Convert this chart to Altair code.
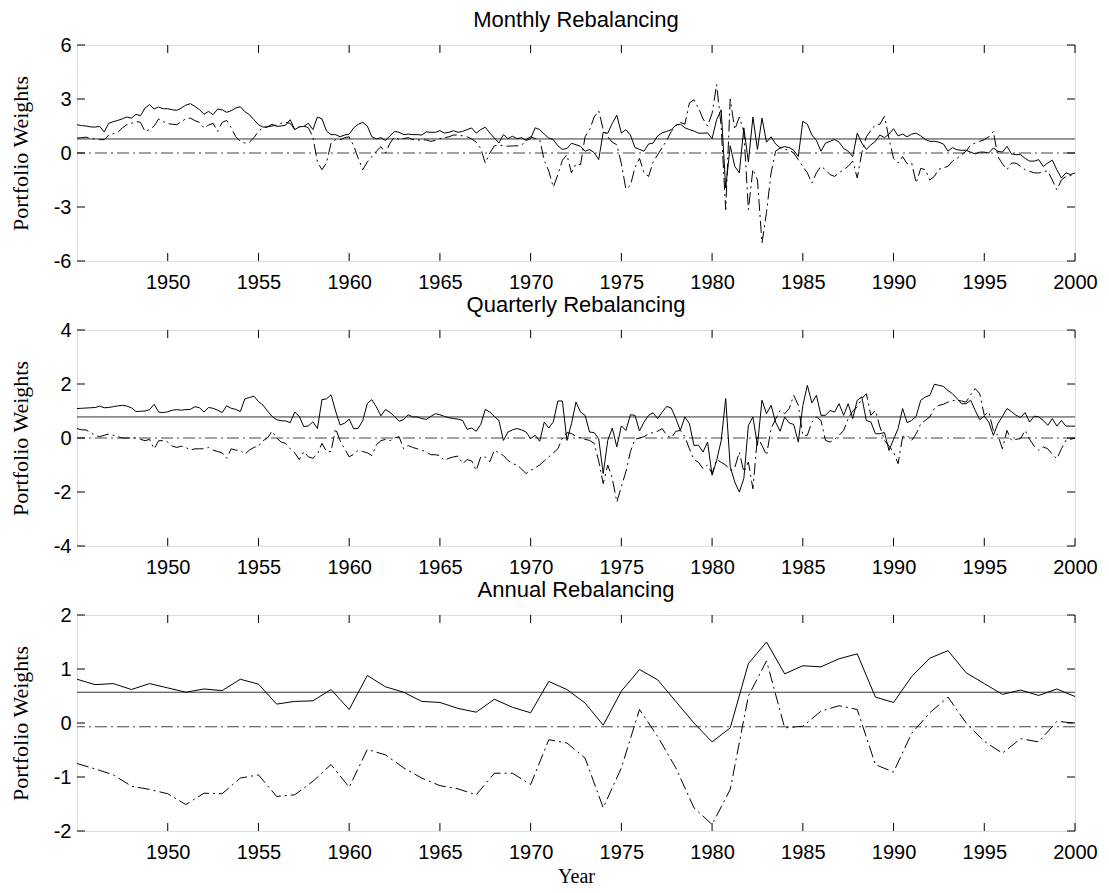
import altair as alt
import pandas as pd

# ---------------- data ----------------
x_ticks = [1950, 1955, 1960, 1965, 1970, 1975, 1980, 1985, 1990, 1995, 2000]

# Monthly panel (read on a quarterly grid 1945.0 ... 2000.0)
m_solid = [
    1.57, 1.52, 1.50, 1.45,  1.44, 1.48, 1.17, 1.65,  1.74, 1.81, 1.90, 2.00,
    1.94, 2.15, 2.07, 2.50,  2.69, 2.45, 2.55, 2.46,  2.46, 2.40, 2.37, 2.50,
    2.66, 2.74, 2.59, 2.41,  2.15, 2.31, 2.13, 2.44,  2.40, 2.26, 2.35, 2.50,
    2.57, 2.30, 2.13, 1.85,  1.57, 1.44, 1.45, 1.60,  1.48, 1.50, 1.55, 1.85,
    1.30, 1.45, 1.48, 1.65,  1.30, 2.00, 1.90, 1.22,  1.02, 1.02, 0.90, 1.00,
    1.05, 1.40, 1.60, 1.70,  1.50, 0.90, 0.78, 0.85,  0.70, 0.95, 1.20, 1.15,
    1.02, 1.05, 1.02, 1.02,  1.00, 1.17, 1.15, 1.15,  1.24, 1.11, 1.15, 1.24,
    1.15, 1.20, 1.30, 1.39,  1.10, 1.30, 1.43, 1.11,  0.83, 0.56, 1.02, 0.80,
    0.93, 0.80, 0.85, 0.70,  0.80, 1.40, 1.30, 1.05,  0.83, 0.74, 0.40, 0.20,
    0.25, 0.54, 0.46, 0.37,  0.10, 0.19, 0.02, -0.37, 1.15, 1.10, 1.65, 2.10,
    1.10, 1.30, 1.00, 0.30,  0.20, 0.10, 0.50, 0.55,  0.95, 1.12, 1.20, 1.30,
    1.55, 1.60, 1.40, 1.30,  1.22, 1.10, 1.10, 1.12,  0.80, 1.85, 2.40, -1.94,
    0.40, -0.74, -1.10, 1.40, -0.50, 2.00, 0.20, 1.94, 0.60, 0.90, 0.50, 0.30,
    0.35, 0.30, 0.15, -0.19, 1.76, 1.60, 1.00, 0.70, 0.10, 0.55, 0.65, 0.75,
    0.60, 0.25, 0.10, -0.20, 1.10, 0.55, 0.20, 0.45, 0.65, 1.00, 0.85, 1.05,
    1.35, 0.95, 1.05, 0.90,  1.05, 1.10, 0.95, 0.75,  0.65, 0.65, 0.60, 0.50,
    0.10, 0.30, 0.18, 0.15,  0.15, 0.05, -0.05, 0.05, 0.05, 0.00, 0.28, 0.10,
    0.05, 0.37, -0.05, -0.09, -0.09, -0.30, -0.45, -0.45, -0.37, -0.75, -0.55, -0.40,
    -0.93, -1.39, -1.10, -1.20, -1.11,
]
m_dash = [
    0.83, 0.85, 0.88, 0.80,  0.78, 0.74, 0.74, 1.00,  1.07, 1.15, 1.40, 1.57,
    1.65, 1.76, 1.70, 1.20,  1.30, 1.50, 1.89, 1.75,  1.63, 1.60, 1.57, 1.75,
    1.90, 1.94, 1.80, 1.70,  1.39, 1.55, 1.65, 1.20,  1.70, 1.81, 1.40, 0.90,
    0.65, 0.55, 0.60, 0.85,  1.20, 1.40, 1.45, 1.50,  1.55, 1.65, 1.70, 1.65,
    1.30, 1.45, 1.50, 1.40,  0.90, -0.50, -0.93, -0.55, 0.55, 0.74, 0.74, 0.85,
    0.90, 0.40, -0.30, -0.93, -0.50, -0.20, 0.10, 0.35, 0.00, 0.55, 0.90, 0.75,
    0.80, 0.85, 0.75, 0.70,  0.75, 0.72, 0.65, 0.70,  0.80, 0.85, 0.90, 1.00,
    1.00, 0.95, 0.90, 0.78,  0.60, 0.25, -0.56, 0.00, 0.40, 0.45, 0.40, 0.38,
    0.39, 0.40, 0.42, 0.75,  0.90, 0.80, 0.74, -0.40, -1.00, -1.90, -1.20, -0.40,
    -0.10, -1.10, -0.60, -0.65, 0.90, 1.30, 2.00, 2.35, 1.30, 0.90, 0.60, 0.45,
    -0.60, -2.00, -1.80, -0.80, -0.30, -1.10, -1.30, -0.50, -0.10, 0.30, 0.70, 1.20,
    1.50, 1.70, 1.60, 2.78,  2.96, 2.50, 1.90, 1.50,  2.20, 3.80, 1.50, -3.15,
    3.00, 1.30, 2.00, 1.20,  -3.15, -0.90, -1.50, -5.00, -3.30, -1.11, 0.10, 0.28,
    0.20, 0.15, 0.00, -0.37, -0.74, -1.10, -1.67, -1.10, -0.74, -0.93, -1.20, -1.30,
    -1.10, -0.93, -0.74, -0.45, -1.39, 0.00, 0.90, 1.25, 1.57, 1.60, 2.04, 0.80,
    -0.30, -0.56, -0.20, -0.60, -0.56, -1.67, -0.85, -0.93, -1.50, -1.30, -0.90, -0.83,
    -0.74, -0.45, -0.30, -0.10, 0.10, 0.45, 0.55, 0.65, 0.74, 0.90, 1.20, -0.20,
    -0.60, -0.93, -0.56, -0.56, -0.74, -0.93, -1.02, -1.10, -1.11, -1.02, -1.00, -1.50,
    -2.04, -1.50, -1.30, -1.25, -1.20,
]

# Quarterly panel
q_solid = [
    1.09, 1.10, 1.11, 1.12,  1.13, 1.18, 1.12, 1.13,  1.16, 1.19, 1.21, 1.18,
    1.12, 0.98, 0.99, 1.00,  1.05, 1.25, 0.96, 0.94,  0.97, 1.03, 1.05, 1.03,
    1.05, 1.06, 1.16, 1.12,  0.96, 1.13, 1.10, 1.03,  0.94, 1.19, 1.10, 1.06,
    0.98, 1.45, 1.50, 1.55,  1.35, 1.22, 1.00, 0.80,  0.68, 0.64, 0.63, 0.57,
    0.96, 0.80, 0.42, 0.45,  0.60, 0.35, 1.42, 1.45,  1.60, 1.00, 0.48, 0.55,
    0.70, 0.34, 0.36, 0.65,  1.28, 1.42, 1.15, 0.82,  1.06, 0.95, 0.80, 0.62,
    0.68, 0.86, 0.78, 0.78,  0.72, 0.69, 0.80, 0.90,  0.86, 0.80, 0.75, 0.72,
    0.70, 0.65, 0.32, 0.37,  0.25, 0.50, 1.06, 0.96,  0.80, 0.65, -0.09, 0.22,
    0.30, 0.35, 0.30, 0.22,  -0.02, 0.10, -0.12, 0.59, 0.37, 0.60, 1.37, 1.37,
    -0.09, 0.53, 1.33, 0.96, 0.84, 0.22, 0.20, -0.02, -1.32, -0.09, 0.37, -0.33,
    0.45, 0.28, 0.86, 0.84,  0.26, 0.59, 0.84, 0.93,  0.72, 0.96, 1.17, 1.11,
    0.72, 0.28, 0.78, 0.53,  -0.27, -0.27, -0.52, -0.15, -1.38, -0.83, -0.10, 1.46,
    -1.07, -1.63, -2.00, -1.50, 0.47, 0.78, -0.27, 1.40, 0.90, 1.21, 0.59, 0.25,
    0.78, 0.56, 0.50, -0.15, 1.20, 1.95, 1.30, 1.58,  0.84, 0.84, 1.02, 0.96,
    1.27, 0.84, 1.27, 0.72,  1.40, 1.52, 0.65, 0.59,  0.16, 0.16, 0.20, -0.46,
    -0.05, 0.35, 1.09, 0.57, 0.65, 0.81, 1.40, 1.52,  1.58, 1.99, 1.95, 1.91,
    1.76, 1.64, 1.46, 1.27,  1.27, 1.40, 1.02, 0.68,  0.81, 0.59, 0.10, 0.53,
    0.80, 1.09, 0.98, 0.84,  0.76, 0.94, 0.59, 0.81,  0.78, 0.65, 0.47, 0.72,
    0.44, 0.65, 0.44, 0.44,  0.44,
]
q_dash = [
    0.35, 0.30, 0.30, 0.20,  0.10, 0.05, 0.10, 0.15,  0.10, 0.05, 0.00, 0.00,
    0.00, 0.00, -0.05, -0.10, -0.05, -0.40, -0.10, -0.10, -0.15, -0.30, -0.35, -0.30,
    -0.35, -0.45, -0.40, -0.40, -0.40, -0.35, -0.45, -0.50, -0.55, -0.75, -0.40, -0.45,
    -0.45, -0.60, -0.45, -0.35, -0.30, -0.10, 0.00, 0.25, 0.00, -0.15, -0.20, -0.40,
    -0.55, -0.80, -0.50, -0.70, -0.75, -0.60, -0.20, -0.50, -0.50, 0.35, -0.10, -0.40,
    -0.70, -0.60, -0.45, -0.50, -0.55, -0.65, -0.25, -0.10, -0.05, -0.10, 0.00, 0.05,
    -0.40, -0.28, -0.35, -0.40, -0.45, -0.52, -0.62, -0.62, -0.65, -0.83, -0.75, -0.70,
    -0.67, -0.95, -0.80, -0.85, -1.20, -0.70, -0.70, -0.88, -0.45, -0.55, -0.65, -0.83,
    -0.95, -1.00, -1.15, -1.32, -1.20, -1.10, -1.00, -0.85, -0.70, -0.55, -0.40, 0.00,
    0.20, 0.17, 0.05, 0.00,  -0.05, -0.09, -0.20, -0.85, -1.69, -1.00, -1.50, -2.37,
    -1.80, -1.25, -0.50, -0.05, 0.00, 0.05, 0.15, 0.20, 0.25, 0.35, 0.10, 0.00,
    0.25, 0.28, 0.05, -0.40, -0.80, -0.90, -1.14, -1.00, -1.32, -0.80, -0.90, -1.00,
    -1.20, -1.10, -0.52, -1.26, -0.89, -1.88, 0.04, -0.27, -0.64, 0.35, 0.70, 1.02,
    0.90, 1.09, 1.58, 1.21,  0.10, 0.10, 0.59, 0.78,  0.65, -0.09, -0.15, -0.05,
    0.10, 0.28, 0.72, 1.00,  1.15, 1.46, 1.64, 0.84,  1.02, 0.41, -0.09, -0.30,
    -0.52, -0.95, 0.04, 0.10, -0.09, 0.16, 0.53, 0.65, 0.78, 1.09, 1.21, 1.25,
    1.33, 1.38, 1.40, 1.37,  1.33, 1.60, 1.83, 1.64,  0.84, 0.96, 0.28, 0.10,
    -0.40, 0.28, -0.09, -0.05, -0.02, 0.28, -0.05, -0.30, -0.46, -0.33, -0.40, -0.60,
    -0.77, -0.40, -0.09, -0.05, 0.00,
]

# Annual panel
a_years = list(range(1945, 2001))
a_solid = [
    0.81, 0.71, 0.73, 0.62, 0.73, 0.65, 0.57, 0.63, 0.60, 0.81,
    0.72, 0.35, 0.40, 0.41, 0.62, 0.25, 0.88, 0.67, 0.57, 0.40,
    0.38, 0.27, 0.20, 0.44, 0.29, 0.19, 0.77, 0.62, 0.37, -0.04,
    0.59, 0.99, 0.80, 0.40, 0.00, -0.35, -0.09, 1.10, 1.50, 0.91,
    1.06, 1.04, 1.19, 1.28, 0.48, 0.38, 0.86, 1.20, 1.34, 0.93,
    0.73, 0.53, 0.61, 0.51, 0.63, 0.49,
]
a_dash = [
    -0.75, -0.85, -0.96, -1.17, -1.23, -1.31, -1.51, -1.30, -1.31, -1.02,
    -0.96, -1.36, -1.33, -1.08, -0.77, -1.19, -0.49, -0.59, -0.83, -1.02,
    -1.16, -1.22, -1.33, -0.93, -0.93, -1.14, -0.31, -0.37, -0.65, -1.57,
    -0.83, 0.25, -0.25, -0.83, -1.57, -1.88, -1.23, 0.50, 1.15, -0.09,
    -0.06, 0.22, 0.32, 0.25, -0.77, -0.91, -0.19, 0.19, 0.48, 0.00,
    -0.34, -0.56, -0.29, -0.35, 0.03, 0.00,
]

# horizontal reference levels (solid, dash-dot) per panel
m_levels = [0.78, 0.0]
q_levels = [0.78, 0.0]
a_levels = [0.57, -0.07]

q_times = [1945 + 0.25 * i for i in range(221)]

# ---------------- chart ----------------
W, H = 998, 216
TICK = 8
DASH = [12, 4, 2, 4]
SANS = "Liberation Sans"
SERIF = "Liberation Serif"
LBL = 20


def panel(title, times, solid, dash, y_dom, y_ticks, levels, x_title=None):
    df = pd.DataFrame({"t": times, "solid": solid, "dash": dash})
    xs = alt.Scale(domain=[1945, 2000], nice=False, zero=False)
    ys = alt.Scale(domain=y_dom, nice=False, zero=False)
    xa = dict(values=x_ticks, labelExpr="'' + datum.value", ticks=False, domain=False, grid=False,
              labelFont=SANS, labelFontSize=LBL, labelColor="black",
              labelPadding=11, labelFlush=False)
    if x_title:
        x_axis = alt.Axis(title=x_title, titleFont=SERIF, titleFontSize=20,
                          titleFontWeight="normal", titleColor="black", titlePadding=4, **xa)
    else:
        x_axis = alt.Axis(title=None, **xa)
    y_axis = alt.Axis(values=y_ticks, labelExpr="'' + datum.value", ticks=False, domain=False,
                      grid=False, labelFont=SANS, labelFontSize=LBL, labelColor="black",
                      labelPadding=6, title="Portfolio Weights",
                      titleFont=SERIF, titleFontSize=22, titleFontWeight="normal",
                      titleColor="black", titlePadding=21)
    base = alt.Chart(df)
    solid_line = base.mark_line(color="black", strokeWidth=1, clip=True).encode(
        x=alt.X("t:Q", scale=xs, axis=x_axis),
        y=alt.Y("solid:Q", scale=ys, axis=y_axis),
    )
    dash_line = base.mark_line(color="black", strokeWidth=1, strokeDash=DASH, clip=True).encode(
        x=alt.X("t:Q", scale=xs), y=alt.Y("dash:Q", scale=ys)
    )
    lv = pd.DataFrame({"v": [levels[0]]})
    lv2 = pd.DataFrame({"v": [levels[1]]})
    h_solid = alt.Chart(lv).mark_rule(color="#333333", strokeWidth=1).encode(y=alt.Y("v:Q", scale=ys))
    h_dash = alt.Chart(lv2).mark_rule(color="#444444", strokeWidth=1, strokeDash=DASH).encode(
        y=alt.Y("v:Q", scale=ys))
    xt = pd.DataFrame({"x": x_ticks})
    yt = pd.DataFrame({"y": y_ticks})
    tb = alt.Chart(xt).mark_rule(color="black").encode(
        x=alt.X("x:Q", scale=xs), y=alt.value(H), y2=alt.value(H - TICK))
    tt = alt.Chart(xt).mark_rule(color="black").encode(
        x=alt.X("x:Q", scale=xs), y=alt.value(0), y2=alt.value(TICK))
    tl = alt.Chart(yt).mark_rule(color="black").encode(
        y=alt.Y("y:Q", scale=ys), x=alt.value(0), x2=alt.value(TICK))
    tr = alt.Chart(yt).mark_rule(color="black").encode(
        y=alt.Y("y:Q", scale=ys), x=alt.value(W), x2=alt.value(W - TICK))
    return alt.layer(h_solid, h_dash, dash_line, solid_line, tb, tt, tl, tr).properties(
        width=W, height=H,
        title=alt.TitleParams(title, font=SANS, fontSize=22, fontWeight="normal",
                              color="black", anchor="middle", offset=3),
    )


p1 = panel("Monthly Rebalancing", q_times, m_solid, m_dash, [-6, 6], [-6, -3, 0, 3, 6], m_levels)
p2 = panel("Quarterly Rebalancing", q_times, q_solid, q_dash, [-4, 4], [-4, -2, 0, 2, 4], q_levels)
p3 = panel("Annual Rebalancing", a_years, a_solid, a_dash, [-2, 2], [-2, -1, 0, 1, 2], a_levels,
           x_title="Year")

chart = alt.vconcat(p1, p2, p3, spacing=0).properties(
    padding={"left": 0, "top": 0, "right": 0, "bottom": 0}
).configure_view(stroke="black", strokeWidth=1).configure(background="white")

chart.save("out.html", embed_options={"renderer": "svg", "actions": False})
